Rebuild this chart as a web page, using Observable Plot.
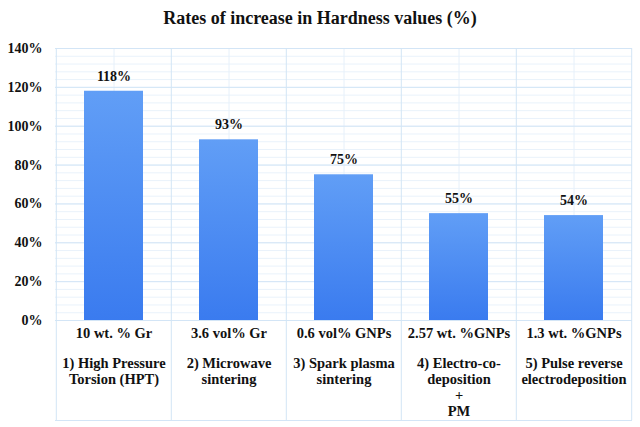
<!DOCTYPE html>
<html>
<head>
<meta charset="utf-8">
<script src="https://cdn.jsdelivr.net/npm/d3@7"></script>
<script src="https://cdn.jsdelivr.net/npm/@observablehq/plot@0.6"></script>
<style>
  html, body { margin: 0; padding: 0; background: #fff; }
  #title { width: 640px; height: 34px; line-height: 36px; text-align: center;
    font-family: "Liberation Serif", "Times New Roman", serif; font-weight: bold; font-size: 18px; color: #111; }
</style>
</head>
<body>
<div id="title">Rates of increase in Hardness values (%)</div>
<div id="chart"></div>
<script>
const categories = ["1", "2", "3", "4", "5"];
const amounts = ["10 wt. % Gr", "3.6 vol% Gr", "0.6 vol% GNPs", "2.57 wt. %GNPs", "1.3 wt. %GNPs"];
const methods = [
  "1) High Pressure\nTorsion (HPT)",
  "2) Microwave\nsintering",
  "3) Spark plasma\nsintering",
  "4) Electro-co-\ndeposition\n+\nPM",
  "5) Pulse reverse\nelectrodeposition"
];
const values = [1.18, 0.93, 0.75, 0.55, 0.54];
const yTicks = [0, 0.2, 0.4, 0.6, 0.8, 1.0, 1.2, 1.4];

const data = categories.map((c, i) => ({cat: c, amount: amounts[i], method: methods[i], value: values[i]}));

const W = 640, H = 393, mL = 55, mR = 8, mT = 14, mB = 107;
const step = (W - mL - mR) / categories.length;
const font = "'Liberation Serif', 'Times New Roman', serif";

const chart = Plot.plot({
  width: W, height: H,
  marginLeft: mL, marginRight: mR, marginTop: mT, marginBottom: mB,
  style: {fontFamily: font, fontWeight: "bold", fontSize: "14px", color: "#111", background: "#fff"},
  x: {domain: categories, paddingInner: 0.49, paddingOuter: 0.245, axis: null},
  y: {domain: [0, 1.4], ticks: yTicks, tickFormat: d3.format(".0%"), tickSize: 0, tickPadding: 13, label: null},
  marks: [
    Plot.gridY({interval: 0.04, stroke: "#e9f2fb", strokeOpacity: 1}),
    Plot.gridX({stroke: "#e6f0fa", strokeOpacity: 1}),
    Plot.gridY(yTicks, {stroke: "#d3e5f6", strokeOpacity: 1}),
    Plot.ruleX(categories, {x: d => d, dx: -step / 2, stroke: "#d3e5f6", insetBottom: -100}),
    Plot.ruleX([categories[categories.length - 1]], {x: d => d, dx: step / 2, stroke: "#d3e5f6", insetBottom: -100}),
    Plot.ruleY([0], {stroke: "#d3e5f6", dy: 100}),
    Plot.barY(data, {x: "cat", y: "value", fill: "url(#barGrad)"}),
    Plot.text(data, {x: "cat", y: "value", text: d => d3.format(".0%")(d.value), dy: -15, fontSize: 14, fontWeight: "bold", fill: "#111"}),
    Plot.text(data, {x: "cat", text: "amount", frameAnchor: "bottom", dy: 17, fontSize: 14.5, fontWeight: "bold", fill: "#111"}),
    Plot.text(data, {x: "cat", text: "method", frameAnchor: "bottom", lineAnchor: "top", dy: 36, lineHeight: 1.1, fontSize: 14.5, fontWeight: "bold", fill: "#111"})
  ]
});

const svg = d3.select(chart);
const defs = svg.insert("defs", ":first-child");
const g = defs.append("linearGradient").attr("id", "barGrad").attr("x1", 0).attr("y1", 0).attr("x2", 0).attr("y2", 1);
g.append("stop").attr("offset", "0%").attr("stop-color", "#619ef6");
g.append("stop").attr("offset", "100%").attr("stop-color", "#3a7bef");

document.getElementById("chart").appendChild(chart);
</script>
</body>
</html>
